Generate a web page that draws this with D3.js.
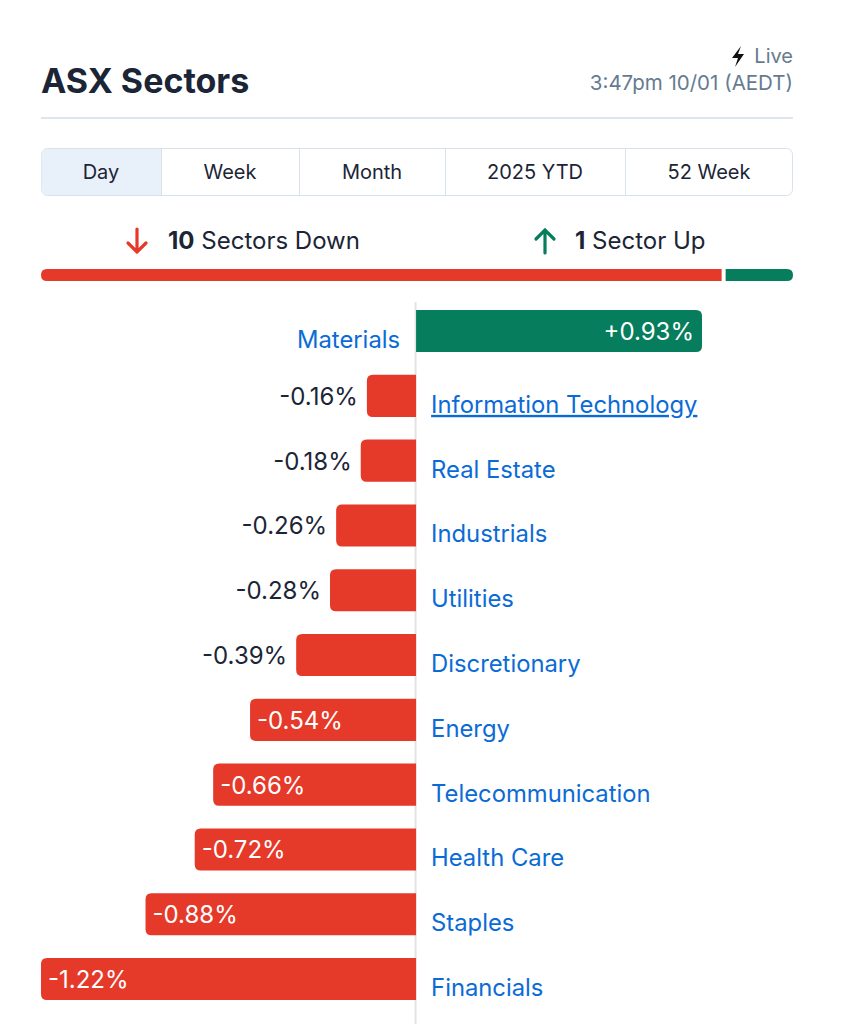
<!DOCTYPE html>
<html>
<head>
<meta charset="utf-8">
<script src="https://cdn.jsdelivr.net/npm/d3@7"></script>
<style>
  body { margin: 0; background: #fff; }
  svg text { font-family: Inter, "Liberation Sans", Arial, sans-serif; }
</style>
</head>
<body>
<svg id="chart" width="843" height="1024"></svg>
<script>
// Data
const sectors = ["Materials", "Information Technology", "Real Estate", "Industrials", "Utilities",
  "Discretionary", "Energy", "Telecommunication", "Health Care", "Staples", "Financials"];
const changes = [0.93, -0.16, -0.18, -0.26, -0.28, -0.39, -0.54, -0.66, -0.72, -0.88, -1.22];
const tabs = ["Day", "Week", "Month", "2025 YTD", "52 Week"];
const tabEdges = [41, 161, 299, 445, 625, 793];

const RED = "#e5392a", GREEN = "#067d5c", BLUE = "#0b6bd6", DARK = "#1b2536", GREY = "#667b90";

const svg = d3.select("#chart");
const left = 41, right = 793;

// Header
svg.append("text").attr("x", left).attr("y", 93)
  .attr("font-size", 34).attr("font-weight", 700).attr("fill", DARK)
  .text("ASX Sectors");

svg.append("text").attr("x", right).attr("y", 63).attr("text-anchor", "end")
  .attr("font-size", 20).attr("fill", GREY).text("Live");
// lightning bolt
svg.append("path")
  .attr("d", "M741,46 L732,58 L738,58 L735,67 L744,54 L738,54 Z")
  .attr("fill", "#111");

svg.append("text").attr("x", right).attr("y", 90).attr("text-anchor", "end")
  .attr("font-size", 20.5).attr("fill", GREY).text("3:47pm 10/01 (AEDT)");

svg.append("line").attr("x1", left).attr("x2", right).attr("y1", 118).attr("y2", 118)
  .attr("stroke", "#dde5ee").attr("stroke-width", 2);

// Tabs
const tabG = svg.append("g");
tabG.append("rect").attr("x", left + 0.5).attr("y", 148.5).attr("width", right - left - 1).attr("height", 47)
  .attr("rx", 6).attr("fill", "#fff").attr("stroke", "#d9e2ec");
tabG.append("path")
  .attr("d", `M${tabEdges[1]},149 L47.5,149 Q41.5,149 41.5,155 L41.5,189 Q41.5,195 47.5,195 L${tabEdges[1]},195 Z`)
  .attr("fill", "#e8f0f9");
tabEdges.slice(1, -1).forEach(x => {
  tabG.append("line").attr("x1", x + 0.5).attr("x2", x + 0.5).attr("y1", 149).attr("y2", 195)
    .attr("stroke", "#d9e2ec");
});
tabs.forEach((t, i) => {
  tabG.append("text").attr("x", (tabEdges[i] + tabEdges[i + 1]) / 2).attr("y", 179)
    .attr("text-anchor", "middle").attr("font-size", 20).attr("fill", DARK).text(t);
});

// Summary
const nDown = changes.filter(d => d < 0).length;
const nUp = changes.filter(d => d > 0).length;

svg.append("path").attr("d", "M137,229 L137,252 M128,243 L137,252 L146,243")
  .attr("stroke", RED).attr("stroke-width", 3.2).attr("fill", "none").attr("stroke-linecap", "round");
const downT = svg.append("text").attr("x", 168).attr("y", 249).attr("font-size", 24).attr("fill", DARK);
downT.append("tspan").attr("font-weight", 700).text(nDown);
downT.append("tspan").text(" Sectors Down");

svg.append("path").attr("d", "M545,253 L545,230 M536,239 L545,230 L554,239")
  .attr("stroke", GREEN).attr("stroke-width", 3.2).attr("fill", "none").attr("stroke-linecap", "round");
const upT = svg.append("text").attr("x", 575).attr("y", 249).attr("font-size", 24).attr("fill", DARK);
upT.append("tspan").attr("font-weight", 700).text(nUp);
upT.append("tspan").text(nUp === 1 ? " Sector Up" : " Sectors Up");

const split = d3.scaleLinear().domain([0, nDown + nUp]).range([left, right]);
const sx = split(nDown) - 1;
svg.append("path")
  .attr("d", `M${sx - 2},269 L${left + 6},269 Q${left},269 ${left},275 Q${left},281 ${left + 6},281 L${sx - 2},281 Z`)
  .attr("fill", RED);
svg.append("path")
  .attr("d", `M${sx + 2},269 L${right - 6},269 Q${right},269 ${right},275 Q${right},281 ${right - 6},281 L${sx + 2},281 Z`)
  .attr("fill", GREEN);

// Bars
const step = 64.8, pad = 0.35;
const x = d3.scaleLinear().domain([-1.22, 0.93]).range([41, 702]);
const y = d3.scaleBand().domain(sectors)
  .range([310, 310 + step * (sectors.length - pad)]).paddingInner(pad).paddingOuter(0);
const zero = x(0);

svg.append("line").attr("x1", zero - 0.5).attr("x2", zero - 0.5).attr("y1", 302).attr("y2", 1024)
  .attr("stroke", "#e3e3e3").attr("stroke-width", 2);

function barPath(v, top, h) {
  const r = 6, x0 = zero, x1 = x(v);
  const s = v >= 0 ? -1 : 1;
  return `M${x0},${top} L${x1 + s * r},${top} Q${x1},${top} ${x1},${top + r} L${x1},${top + h - r} Q${x1},${top + h} ${x1 + s * r},${top + h} L${x0},${top + h} Z`;
}

const rows = svg.append("g").selectAll("g")
  .data(sectors.map((s, i) => ({ name: s, value: changes[i] })))
  .join("g");

rows.append("path")
  .attr("d", d => barPath(d.value, y(d.name), y.bandwidth()))
  .attr("fill", d => d.value >= 0 ? GREEN : RED);

const fmt = v => (v > 0 ? "+" : "") + v.toFixed(2) + "%";

rows.append("text")
  .attr("y", d => y(d.name) + y.bandwidth() / 2 + 9)
  .attr("font-size", 24)
  .each(function (d) {
    const t = d3.select(this).text(fmt(d.value));
    const w = Math.abs(x(d.value) - zero);
    if (d.value >= 0) {
      t.attr("x", x(d.value) - 8).attr("text-anchor", "end").attr("fill", "#fff");
    } else if (w > 140) {
      t.attr("x", x(d.value) + 7).attr("text-anchor", "start").attr("fill", "#fff");
    } else {
      t.attr("x", x(d.value) - 9).attr("text-anchor", "end").attr("fill", DARK);
    }
  });

rows.append("text")
  .attr("y", d => y(d.name) + y.bandwidth() / 2 + 17)
  .attr("font-size", 23.8)
  .attr("fill", BLUE)
  .attr("x", d => d.value >= 0 ? zero - 16 : zero + 15)
  .attr("text-anchor", d => d.value >= 0 ? "end" : "start")
  .attr("text-decoration", d => d.name === "Information Technology" ? "underline" : null)
  .text(d => d.name);
</script>
</body>
</html>
